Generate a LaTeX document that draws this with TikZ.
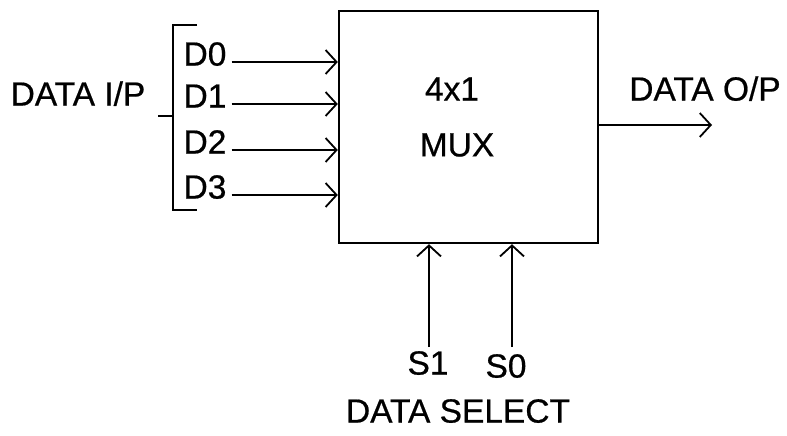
\documentclass[tikz,border=0pt]{standalone}
\usepackage{fontspec}
\setmainfont{Liberation Sans}[FakeBold=0.6]
\usetikzlibrary{arrows.meta,positioning}

\begin{document}
\begin{tikzpicture}[
    x=1pt, y=-1pt,
    every node/.style={font=\fontsize{33.5}{36}\selectfont},
    lbl/.style={inner sep=5pt, text height=0.716em, text depth=0pt},
    block/.style={draw, line width=2.4pt, minimum width=259pt, minimum height=232pt},
    sig/.style={-{Straight Barb[length=11pt,width=24pt]}, line width=1.8pt}
]
\useasboundingbox (0,0) rectangle (787,436);

\node[block] (mux) at (468.5,127) {};
\node (n4x1) at (452,89) {4x1};
\node (nmux) at (457,145) {MUX};

% data inputs
\node[lbl] (d0) at (205,62) {D0};
\node[lbl] (d1) at (205,104) {D1};
\node[lbl] (d2) at (205,150) {D2};
\node[lbl] (d3) at (205,195) {D3};
\foreach \n in {d0,d1,d2,d3}
    \draw[sig] (\n.east) -- (\n.east -| mux.west);

\draw[line width=1.8pt] (197,25) -- (173,25) -- (173,210) -- (197,210);
\draw[line width=1.8pt] (173,116) -- (158,116);
\node[lbl] (dip) at (78,102) {DATA I/P};

% output
\coordinate (dout) at (712,125);
\draw[sig] (mux.east |- dout) -- (dout);
\node[lbl] (dop) at (705,97) {DATA O/P};

% select lines
\node[lbl] (s1) at (428,371) {S1};
\node[lbl] (s0) at (506,374) {S0};
\coordinate (s1in) at (429,347);
\coordinate (s0in) at (512,347);
\draw[sig] (s1in) -- (s1in |- mux.south);
\draw[sig] (s0in) -- (s0in |- mux.south);
\node[lbl] (dsel) at (458,419) {DATA SELECT};
\end{tikzpicture}
\end{document}
